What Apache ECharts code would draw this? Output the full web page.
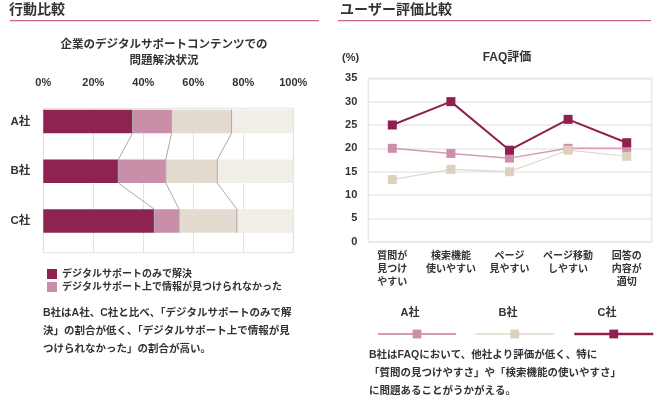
<!DOCTYPE html>
<html><head><meta charset="utf-8">
<script src="https://cdn.jsdelivr.net/npm/echarts@6/dist/echarts.min.js"></script>
<style>html,body{margin:0;padding:0;background:#fff}#c{width:661px;height:414px}</style>
</head><body><div id="c"></div>
<script>
// ---- data: left chart (stacked %) ----
const companies = ['A社', 'B社', 'C社'];
const solvedOnly = [35.7, 30.0, 44.4];   // デジタルサポートのみで解決
const notFound   = [15.6, 19.0, 9.9];    // デジタルサポート上で情報が見つけられなかった
const otherMid   = [24.0, 20.6, 23.1];
const otherRest  = [24.7, 30.4, 22.6];
const pctTicks = [0, 20, 40, 60, 80, 100];

// ---- data: right chart (FAQ評価) ----
const faqItems = ['質問が\n見つけ\nやすい', '検索機能\n使いやすい', 'ページ\n見やすい', 'ページ移動\nしやすい', '回答の\n内容が\n適切'];
const faqA = [20, 18.9, 17.9, 20, 20];
const faqB = [13.3, 15.5, 15, 19.6, 18.3];
const faqC = [25, 30, 19.6, 26.2, 21.2];
const faqTicks = [0, 5, 10, 15, 20, 25, 30, 35];

const FF = '"Liberation Sans","Noto Sans CJK JP",sans-serif';
const TXT = '#333';
const DARK = '#8e2251', PINK = '#c98fa8', BEIGE = '#e3dbcf', LIGHT = '#f1ede7';
const BAR_W = 23.5;

const segs = [solvedOnly, notFound, otherMid, otherRest];
const cum = companies.map((_, i) => {
  let s = 0; const out = [];
  for (let k = 0; k < 3; k++) { s += segs[k][i]; out.push(s); }
  return out;
});

const chart = echarts.init(document.getElementById('c'), null, {renderer: 'canvas'});

function connectorItem(params, api) {
  const i = params.dataIndex;
  const h = BAR_W / 2;
  const children = [];
  const st = {stroke: '#a9a9a9', lineWidth: 1, fill: null};
  for (let k = 0; k < 3; k++) {
    const p = api.coord([cum[i][k], i]);
    const pts = [[p[0], p[1] - h], [p[0], p[1] + h]];
    if (i < companies.length - 1) {
      const q = api.coord([cum[i + 1][k], i + 1]);
      pts.push([q[0], q[1] - h]);
    }
    children.push({type: 'polyline', shape: {points: pts}, style: st});
  }
  return {type: 'group', children};
}

const boldLbl = (size) => ({fontFamily: FF, fontWeight: 'bold', fontSize: size, color: TXT});

const option = {
  animation: false,
  backgroundColor: '#fff',
  grid: [
    {left: 43.3, top: 96.6, width: 250, height: 149.3},
    {left: 43.3, top: 108.3, width: 250, height: 144.4, show: true, borderColor: '#e2e2e2', borderWidth: 1},
    {left: 368.3, top: 78.3, width: 283.4, height: 163.4, show: true, borderColor: '#e6e6e6', borderWidth: 1.5},
    {left: 392.3, top: 78.3, width: 234.4, height: 163.4}
  ],
  xAxis: [
    {gridIndex: 0, type: 'value', min: 0, max: 100, show: false},
    {gridIndex: 1, type: 'value', min: pctTicks[0], max: pctTicks[pctTicks.length - 1], interval: 20, position: 'top',
      axisLine: {show: false}, axisTick: {show: false},
      axisLabel: Object.assign(boldLbl(11), {formatter: '{value}%', margin: 20}),
      splitLine: {show: true, lineStyle: {color: '#e2e2e2', width: 1}}},
    {gridIndex: 2, type: 'value', min: 0, max: 1, show: false},
    {gridIndex: 3, type: 'category', data: faqItems, boundaryGap: false,
      axisLine: {show: false}, axisTick: {show: false}, splitLine: {show: false},
      axisLabel: Object.assign(boldLbl(10), {interval: 0, lineHeight: 13, margin: 8})}
  ],
  yAxis: [
    {gridIndex: 0, type: 'category', data: companies, inverse: true,
      axisLine: {show: false}, axisTick: {show: false},
      axisLabel: Object.assign(boldLbl(11.5), {margin: 13})},
    {gridIndex: 1, type: 'value', show: false},
    {gridIndex: 2, type: 'value', min: faqTicks[0], max: faqTicks[faqTicks.length - 1], interval: 5,
      axisLine: {show: false}, axisTick: {show: false},
      axisLabel: Object.assign(boldLbl(11), {margin: 11}),
      splitLine: {show: true, lineStyle: {color: '#e8e8e8', width: 1.5}}},
    {gridIndex: 3, type: 'value', min: 0, max: 35, show: false}
  ],
  legend: [
    {data: ['デジタルサポートのみで解決', 'デジタルサポート上で情報が見つけられなかった'],
      orient: 'vertical', left: 42, top: 264, itemWidth: 10, itemHeight: 10, itemGap: 3,
      icon: 'rect', selectedMode: false,
      textStyle: {fontFamily: FF, fontWeight: 'bold', fontSize: 10, color: TXT}},
    {data: ['A社'], left: 372, top: 323.5, itemWidth: 78, itemHeight: 11, selectedMode: false,
      formatter: () => '', lineStyle: {width: 2}},
    {data: ['B社'], left: 470, top: 323.5, itemWidth: 78, itemHeight: 11, selectedMode: false,
      formatter: () => '', lineStyle: {width: 1.5}},
    {data: ['C社'], left: 568, top: 323.5, itemWidth: 79, itemHeight: 11, selectedMode: false,
      formatter: () => '', lineStyle: {width: 2.5}}
  ],
  series: [
    {name: 'デジタルサポートのみで解決', type: 'bar', stack: 's', xAxisIndex: 0, yAxisIndex: 0,
      barWidth: BAR_W, data: solvedOnly, itemStyle: {color: DARK}},
    {name: 'デジタルサポート上で情報が見つけられなかった', type: 'bar', stack: 's', xAxisIndex: 0, yAxisIndex: 0,
      barWidth: BAR_W, data: notFound, itemStyle: {color: PINK}},
    {name: 'その他1', type: 'bar', stack: 's', xAxisIndex: 0, yAxisIndex: 0,
      barWidth: BAR_W, data: otherMid, itemStyle: {color: BEIGE}},
    {name: 'その他2', type: 'bar', stack: 's', xAxisIndex: 0, yAxisIndex: 0,
      barWidth: BAR_W, data: otherRest, itemStyle: {color: LIGHT}},
    {name: 'connectors', type: 'custom', xAxisIndex: 0, yAxisIndex: 0, z: 10,
      data: companies.map((_, i) => [0, i]), renderItem: connectorItem, silent: true},
    {name: 'A社', type: 'line', xAxisIndex: 3, yAxisIndex: 3, data: faqA,
      symbol: 'rect', symbolSize: 9, lineStyle: {color: '#d59ab4', width: 1.5}, itemStyle: {color: '#cc8fab'}},
    {name: 'B社', type: 'line', xAxisIndex: 3, yAxisIndex: 3, data: faqB,
      symbol: 'rect', symbolSize: 9, lineStyle: {color: '#e3d7c8', width: 1.2}, itemStyle: {color: '#ddd0bf'}},
    {name: 'C社', type: 'line', xAxisIndex: 3, yAxisIndex: 3, data: faqC,
      symbol: 'rect', symbolSize: 9, lineStyle: {color: '#902050', width: 2}, itemStyle: {color: '#902050'}}
  ],
  graphic: [
    {type: 'text', x: 9, y: 10, style: {text: '行動比較', font: 'bold 14px ' + FF, fill: TXT, textVerticalAlign: 'middle'}},
    {type: 'line', shape: {x1: 10, y1: 20.7, x2: 319, y2: 20.7}, style: {stroke: '#c9648a', lineWidth: 1.3}},
    {type: 'text', x: 340, y: 10, style: {text: 'ユーザー評価比較', font: 'bold 14px ' + FF, fill: TXT, textVerticalAlign: 'middle'}},
    {type: 'line', shape: {x1: 338, y1: 20.7, x2: 651, y2: 20.7}, style: {stroke: '#c9648a', lineWidth: 1.3}},
    {type: 'text', x: 164, y: 37, style: {text: '企業のデジタルサポートコンテンツでの\n問題解決状況', font: 'bold 11.5px ' + FF, lineHeight: 16, fill: TXT, textAlign: 'center', textVerticalAlign: 'top'}},
    {type: 'text', x: 507, y: 58, style: {text: 'FAQ評価', font: 'bold 12px ' + FF, fill: TXT, textAlign: 'center', textVerticalAlign: 'middle'}},
    {type: 'text', x: 342, y: 58, style: {text: '(%)', font: 'bold 11px ' + FF, fill: TXT, textVerticalAlign: 'middle'}},
    {type: 'text', x: 410, y: 313, style: {text: 'A社', font: 'bold 11px ' + FF, fill: TXT, textAlign: 'center', textVerticalAlign: 'middle'}},
    {type: 'text', x: 508, y: 313, style: {text: 'B社', font: 'bold 11px ' + FF, fill: TXT, textAlign: 'center', textVerticalAlign: 'middle'}},
    {type: 'text', x: 607, y: 313, style: {text: 'C社', font: 'bold 11px ' + FF, fill: TXT, textAlign: 'center', textVerticalAlign: 'middle'}},
    {type: 'text', x: 43, y: 304, style: {text: 'B社はA社、C社と比べ、「デジタルサポートのみで解\n決」の割合が低く、「デジタルサポート上で情報が見\nつけられなかった」の割合が高い。', font: 'bold 10.5px ' + FF, lineHeight: 18, fill: TXT, textVerticalAlign: 'top'}},
    {type: 'text', x: 369, y: 346, style: {text: 'B社はFAQにおいて、他社より評価が低く、特に\n「質問の見つけやすさ」や「検索機能の使いやすさ」\nに問題あることがうかがえる。', font: 'bold 10.5px ' + FF, lineHeight: 18, fill: TXT, textVerticalAlign: 'top'}}
  ]
};
chart.setOption(option);
</script>
</body></html>
